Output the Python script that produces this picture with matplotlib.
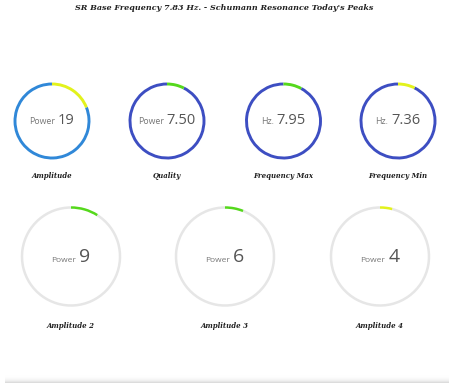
import numpy as np
import matplotlib
matplotlib.use("Agg")
import matplotlib.pyplot as plt
from matplotlib.patches import Arc
from matplotlib.offsetbox import TextArea, HPacker, AnnotationBbox

# gauge data
labels_top = ["Amplitude", "Quality", "Frequency Max", "Frequency Min"]
prefix_top = ["Power", "Power", "Hz.", "Hz."]
values_top = [19, 7.50, 7.95, 7.36]
text_top = ["19", "7.50", "7.95", "7.36"]
max_top = [100, 100, 100, 100]
arc_colors_top = ["#e2f21c", "#55d81c", "#55d81c", "#e2f21c"]
track_colors_top = ["#3088d8", "#3d4ec2", "#3d4ec2", "#3d4ec2"]

labels_bottom = ["Amplitude 2", "Amplitude 3", "Amplitude 4"]
prefix_bottom = ["Power", "Power", "Power"]
values_bottom = [9, 6, 4]
text_bottom = ["9", "6", "4"]
max_bottom = [100, 100, 100]
arc_colors_bottom = ["#55d81c", "#55d81c", "#e2f21c"]
track_color_bottom = "#e6e6e6"

title = "SR Base Frequency 7.83 Hz. - Schumann Resonance Today's Peaks"

W, H = 449, 383
fig = plt.figure(figsize=(W / 100, H / 100), dpi=100)
ax = fig.add_axes([0, 0, 1, 1])
ax.set_xlim(0, W)
ax.set_ylim(0, H)
ax.axis("off")

script_font = dict(family="DejaVu Serif", fontweight="bold", fontstyle="italic", color="#222222")


def gauge(cx, cy, r, lw, value, vmax, arc_col, track_col, prefix, vtext, label, label_y, s1, s2):
    y = H - cy
    frac = value / vmax
    ax.add_patch(Arc((cx, y), 2 * r, 2 * r, theta1=90, theta2=90 + 360 - 360 * frac,
                     color=track_col, lw=lw))
    ax.add_patch(Arc((cx, y), 2 * r, 2 * r, theta1=90 - 360 * frac, theta2=90,
                     color=arc_col, lw=lw))
    t1 = TextArea(prefix, textprops=dict(family="Open Sans", size=s1, color="#777777"))
    t2 = TextArea(vtext, textprops=dict(family="Open Sans", size=s2, color="#555555"))
    pack = HPacker(children=[t1, t2], align="baseline", pad=0, sep=2)
    ab = AnnotationBbox(pack, (cx, y), frameon=False, box_alignment=(0.5, 0.5), pad=0)
    ax.add_artist(ab)
    ax.text(cx, H - label_y, label, ha="center", va="center", size=5.0, **script_font)


top_x = [52, 167, 283.5, 398]
for i in range(len(labels_top)):
    gauge(top_x[i], 121, 37, 2.1, values_top[i], max_top[i], arc_colors_top[i],
          track_colors_top[i], prefix_top[i], text_top[i], labels_top[i], 176, 6.3, 10.5)

bottom_x = [71, 225, 380]
for i in range(len(labels_bottom)):
    gauge(bottom_x[i], 256.5, 49, 1.8, values_bottom[i], max_bottom[i], arc_colors_bottom[i],
          track_color_bottom, prefix_bottom[i], text_bottom[i], labels_bottom[i], 326, 6.0, 14)

ax.text(W / 2, H - 8, title, ha="center", va="center", size=5.8, **script_font)

# soft shadow at the bottom edge
grad = np.linspace(0, 1, 20).reshape(-1, 1) ** 2
ax.imshow(grad, extent=(5, W, 0, 8), cmap="Greys", vmin=0, vmax=4, aspect="auto")
ax.set_xlim(0, W)
ax.set_ylim(0, H)

fig.savefig("out.png", dpi=100)
